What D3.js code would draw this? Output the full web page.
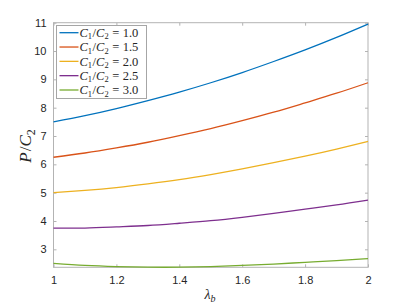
<!DOCTYPE html>
<html>
<head>
<meta charset="utf-8">
<script src="https://cdn.jsdelivr.net/npm/d3@7"></script>
<style>
  body { margin: 0; background: #fff; }
  svg { display: block; }
</style>
</head>
<body>
<div class="holder"></div>
<script>
// values
var lambdaB = [1.0, 1.1, 1.2, 1.3, 1.4, 1.5, 1.6, 1.7, 1.8, 1.9, 2.0];
var ratioLabels = ["1.0", "1.5", "2.0", "2.5", "3.0"];
var pRatio10 = [7.50, 7.72, 7.97, 8.25, 8.55, 8.88, 9.24, 9.63, 10.04, 10.48, 10.95];
var pRatio15 = [6.25, 6.40, 6.58, 6.78, 7.01, 7.26, 7.54, 7.84, 8.17, 8.51, 8.88];
var pRatio20 = [5.00, 5.08, 5.18, 5.31, 5.46, 5.64, 5.84, 6.06, 6.29, 6.54, 6.81];
var pRatio25 = [3.75, 3.75, 3.79, 3.84, 3.92, 4.01, 4.13, 4.27, 4.42, 4.57, 4.74];
var pRatio30 = [2.50, 2.43, 2.39, 2.37, 2.37, 2.39, 2.43, 2.48, 2.54, 2.60, 2.67];
var xTicks = [1, 1.2, 1.4, 1.6, 1.8, 2];
var yTicks = [3, 4, 5, 6, 7, 8, 9, 10, 11];

var series = [pRatio10, pRatio15, pRatio20, pRatio25, pRatio30];
var colors = ["#0072BD", "#D95319", "#EDB120", "#7E2F8E", "#77AC30"];

var width = 407, height = 305;
var plotLeft = 53.5, plotRight = 368, plotTop = 22.7, plotBottom = 267.3;
var axisColor = "#b3b3b3";
var textColor = "#262626";

var svg = d3.select(".holder").append("svg")
    .attr("width", width)
    .attr("height", height);

var x = d3.scaleLinear().domain([1, 2]).range([plotLeft, plotRight]);
var y = d3.scaleLinear().domain([2.365, 11]).range([plotBottom, plotTop]);

function styleAxis(g) {
  g.select(".domain").remove();
  g.selectAll(".tick line").attr("stroke", axisColor);
  g.selectAll(".tick text")
    .attr("fill", textColor)
    .style("font-family", "'Liberation Sans', Arial, sans-serif")
    .style("font-size", "11px");
}

// bottom + top axes (ticks inside)
svg.append("g")
  .attr("transform", "translate(0," + plotBottom + ")")
  .call(d3.axisBottom(x).tickValues(xTicks).tickSizeInner(-3).tickSizeOuter(0).tickPadding(9)
    .tickFormat(function(d) { return String(+d.toFixed(1)); }))
  .call(styleAxis);
svg.append("g")
  .attr("transform", "translate(0," + plotTop + ")")
  .call(d3.axisTop(x).tickValues(xTicks).tickSizeInner(-3).tickSizeOuter(0).tickFormat(""))
  .call(styleAxis);

// left + right axes
svg.append("g")
  .attr("transform", "translate(" + plotLeft + ",0)")
  .call(d3.axisLeft(y).tickValues(yTicks).tickSizeInner(-3).tickSizeOuter(0).tickPadding(7))
  .call(styleAxis);
svg.append("g")
  .attr("transform", "translate(" + plotRight + ",0)")
  .call(d3.axisRight(y).tickValues(yTicks).tickSizeInner(-3).tickSizeOuter(0).tickFormat(""))
  .call(styleAxis);

// box
svg.append("rect")
  .attr("x", plotLeft).attr("y", plotTop)
  .attr("width", plotRight - plotLeft).attr("height", plotBottom - plotTop)
  .attr("fill", "none")
  .attr("stroke", axisColor)
  .attr("stroke-width", 1);

// curves
var line = d3.line()
  .x(function(d, i) { return x(lambdaB[i]); })
  .y(function(d) { return y(d); })
  .curve(d3.curveNatural);

svg.append("g")
  .selectAll("path.curve")
  .data(series)
  .enter().append("path")
  .attr("class", "curve")
  .attr("d", line)
  .attr("fill", "none")
  .attr("stroke", function(d, i) { return colors[i]; })
  .attr("stroke-width", 1.3);

// axis labels (LaTeX-ish)
var serif = "'Liberation Serif', 'Times New Roman', serif";
var xl = svg.append("text")
  .attr("x", 210).attr("y", 299)
  .attr("text-anchor", "middle")
  .attr("fill", textColor)
  .style("font-family", serif)
  .style("font-size", "14px");
xl.append("tspan").style("font-style", "italic").text("λ");
xl.append("tspan").attr("dy", 3).style("font-size", "10px").style("font-style", "italic").text("b");

var yl = svg.append("text")
  .attr("transform", "translate(31,146) rotate(-90)")
  .attr("text-anchor", "middle")
  .attr("fill", textColor)
  .style("font-family", serif)
  .style("font-size", "17px");
yl.append("tspan").style("font-style", "italic").text("P");
yl.append("tspan").attr("dx", 1).text("/");
yl.append("tspan").style("font-style", "italic").text("C");
yl.append("tspan").attr("dy", 3.5).style("font-size", "12px").text("2");

// legend
var legend = svg.append("g");
legend.append("rect")
  .attr("x", 56.5).attr("y", 25.5)
  .attr("width", 90).attr("height", 73)
  .attr("fill", "#fff")
  .attr("stroke", "#a6a6a6")
  .attr("stroke-width", 1);

var rowY = d3.scaleLinear().domain([0, 4]).range([32.7, 90]);
ratioLabels.forEach(function(lab, i) {
  var yy = rowY(i);
  legend.append("line")
    .attr("x1", 59.5).attr("x2", 78.5)
    .attr("y1", yy).attr("y2", yy)
    .attr("stroke", colors[i])
    .attr("stroke-width", 1.3);
  var t = legend.append("text")
    .attr("x", 79.5).attr("y", yy + 4.2)
    .attr("fill", textColor)
    .style("font-family", serif)
    .style("font-size", "12.5px");
  t.append("tspan").style("font-style", "italic").text("C");
  t.append("tspan").attr("dy", 2.5).style("font-size", "8.5px").text("1");
  t.append("tspan").attr("dy", -2.5).attr("dx", 0.5).text("/");
  t.append("tspan").style("font-style", "italic").text("C");
  t.append("tspan").attr("dy", 2.5).style("font-size", "8.5px").text("2");
  t.append("tspan").attr("dy", -2.5).attr("dx", 3.5).text("=");
  t.append("tspan").attr("dx", 3.5).text(lab);
});
</script>
</body>
</html>
